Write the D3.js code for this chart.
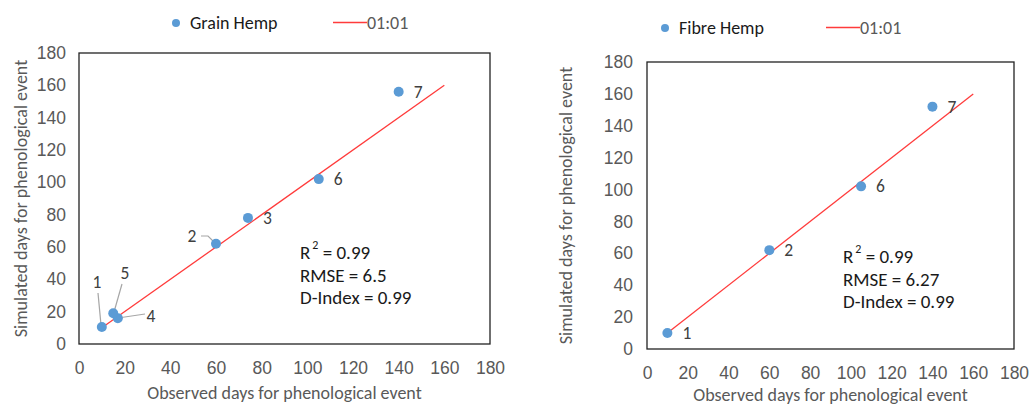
<!DOCTYPE html>
<html>
<head>
<meta charset="utf-8">
<script src="https://cdn.jsdelivr.net/npm/d3@7"></script>
<style>
  body { margin: 0; background: #fff; }
  svg { display: block; font-family: Carlito, "Liberation Sans", sans-serif; }
</style>
</head>
<body>
<div id="canvas-svg"></div>
<script>
// data (observed, simulated)
var grainObs = [10, 60, 74, 17, 15, 105, 140];
var grainSim = [10.5, 62, 78, 16, 19, 102, 156];
var grainIds = ["1", "2", "3", "4", "5", "6", "7"];

var fibreObs = [10, 60, 105, 140];
var fibreSim = [10, 62, 102, 152];
var fibreIds = ["1", "2", "6", "7"];

var oneToOne = [10, 160];
var ticks = [0, 20, 40, 60, 80, 100, 120, 140, 160, 180];

var grainStats = ["0.99", "6.5", "0.99"];
var fibreStats = ["0.99", "6.27", "0.99"];

var W = 1030, H = 406;
var dotCol = "#5b9bd5", lineCol = "#ff3b3b", grey = "#595959";

var svg = d3.select("#canvas-svg").append("svg")
    .attr("width", W)
    .attr("height", H);

function drawChart(o) {
  var x = d3.scaleLinear().domain([0, 180]).range([o.left, o.right]);
  var y = d3.scaleLinear().domain([0, 180]).range([o.bottom, o.top]);
  var g = svg.append("g");

  // plot box
  g.append("rect")
    .attr("x", o.left).attr("y", o.top)
    .attr("width", o.right - o.left).attr("height", o.bottom - o.top)
    .style("fill", "none").style("stroke", "#222").style("stroke-width", 1.3);

  var xa = g.append("g").attr("transform", "translate(0," + o.xTickY + ")")
    .call(d3.axisBottom(x).tickValues(ticks).tickSize(0).tickPadding(0));
  xa.select(".domain").remove();
  xa.selectAll("text").style("font-size", "17.5px").style("fill", grey).attr("dy", "0.35em");

  var ya = g.append("g").attr("transform", "translate(" + o.yTickX + ",0)")
    .call(d3.axisLeft(y).tickValues(ticks).tickSize(0).tickPadding(0));
  ya.select(".domain").remove();
  ya.selectAll("text").style("font-size", "17.5px").style("fill", grey);

  // axis titles
  g.append("text")
    .attr("x", (o.left + o.right) / 2).attr("y", o.xTitleY)
    .attr("text-anchor", "middle").style("font-size", "18px").style("fill", grey)
    .text("Observed days for phenological event");
  g.append("text")
    .attr("transform", "translate(" + o.yTitleX + "," + (o.top + o.bottom) / 2 + ") rotate(-90)")
    .attr("text-anchor", "middle").style("font-size", "18px").style("fill", grey)
    .text("Simulated days for phenological event");

  // 1:1 line
  g.append("line")
    .attr("x1", x(oneToOne[0])).attr("y1", y(oneToOne[0]))
    .attr("x2", x(oneToOne[1])).attr("y2", y(oneToOne[1]))
    .style("stroke", lineCol).style("stroke-width", 1.3);

  var pts = o.obs.map(function(v, i) { return {x: v, y: o.sim[i], id: o.ids[i]}; });

  // leader lines
  pts.forEach(function(p) {
    var lab = o.labels[p.id];
    if (lab.leader) {
      g.append("polyline")
        .attr("points", lab.leader.map(function(q) { return q.join(","); }).join(" "))
        .style("fill", "none").style("stroke", "#a6a6a6").style("stroke-width", 1.2);
    }
  });

  g.selectAll("circle.pt").data(pts).enter().append("circle")
    .attr("class", "pt")
    .attr("cx", function(d) { return x(d.x); })
    .attr("cy", function(d) { return y(d.y); })
    .attr("r", 5)
    .style("fill", dotCol);

  g.selectAll("text.lab").data(pts).enter().append("text")
    .attr("class", "lab")
    .attr("x", function(d) { var l = o.labels[d.id]; return l.at ? l.at[0] : x(d.x) + 15; })
    .attr("y", function(d) { var l = o.labels[d.id]; return l.at ? l.at[1] : y(d.y) + 6; })
    .attr("text-anchor", function(d) { return o.labels[d.id].at ? "middle" : "start"; })
    .style("font-size", "17.5px").style("fill", "#404040")
    .text(function(d) { return d.id; });

  // stats
  var st = g.append("g").style("font-size", "19px").style("fill", "#1a1a1a");
  var r2 = st.append("text").attr("x", o.statX).attr("y", o.statY);
  r2.append("tspan").text("R");
  r2.append("tspan").attr("dx", 2).attr("dy", -10).style("font-size", "12px").text("2");
  r2.append("tspan").attr("dy", 10).text(" = " + o.stats[0]);
  st.append("text").attr("x", o.statX).attr("y", o.statY + 22.5).text("RMSE = " + o.stats[1]);
  st.append("text").attr("x", o.statX).attr("y", o.statY + 45).text("D-Index = " + o.stats[2]);

  // legend
  g.append("circle").attr("cx", o.legX).attr("cy", o.legY).attr("r", 4).style("fill", dotCol);
  g.append("text").attr("x", o.legX + 14).attr("y", o.legY + 6)
    .style("font-size", "18px").style("fill", "#1a1a1a").text(o.name);
  g.append("line")
    .attr("x1", o.legLineX).attr("y1", o.legY - 0.5)
    .attr("x2", o.legLineX + 34).attr("y2", o.legY - 0.5)
    .style("stroke", lineCol).style("stroke-width", 1.3);
  g.append("text").attr("x", o.legLineX + 34).attr("y", o.legY + 6)
    .style("font-size", "18px").style("fill", grey).text("01:01");
}

drawChart({
  name: "Grain Hemp", obs: grainObs, sim: grainSim, ids: grainIds, stats: grainStats,
  left: 79, right: 490, top: 53, bottom: 344,
  xTickY: 368, yTickX: 66, xTitleY: 399, yTitleX: 27,
  statX: 300, statY: 259,
  legX: 176, legY: 23, legLineX: 333,
  labels: {
    "1": {at: [97, 288], leader: [[98, 293], [101, 325]]},
    "2": {at: [192, 242], leader: [[201, 236], [208, 236], [214, 242]]},
    "3": {}, "6": {}, "7": {},
    "4": {at: [151, 322], leader: [[145, 314], [118, 318]]},
    "5": {at: [125, 279], leader: [[122, 284], [114, 312]]}
  }
});

drawChart({
  name: "Fibre Hemp", obs: fibreObs, sim: fibreSim, ids: fibreIds, stats: fibreStats,
  left: 647, right: 1014, top: 62, bottom: 349,
  xTickY: 373, yTickX: 633, xTitleY: 401, yTitleX: 572,
  statX: 843, statY: 263,
  legX: 665, legY: 28, legLineX: 826,
  labels: {"1": {}, "2": {}, "6": {}, "7": {}}
});
</script>
</body>
</html>
